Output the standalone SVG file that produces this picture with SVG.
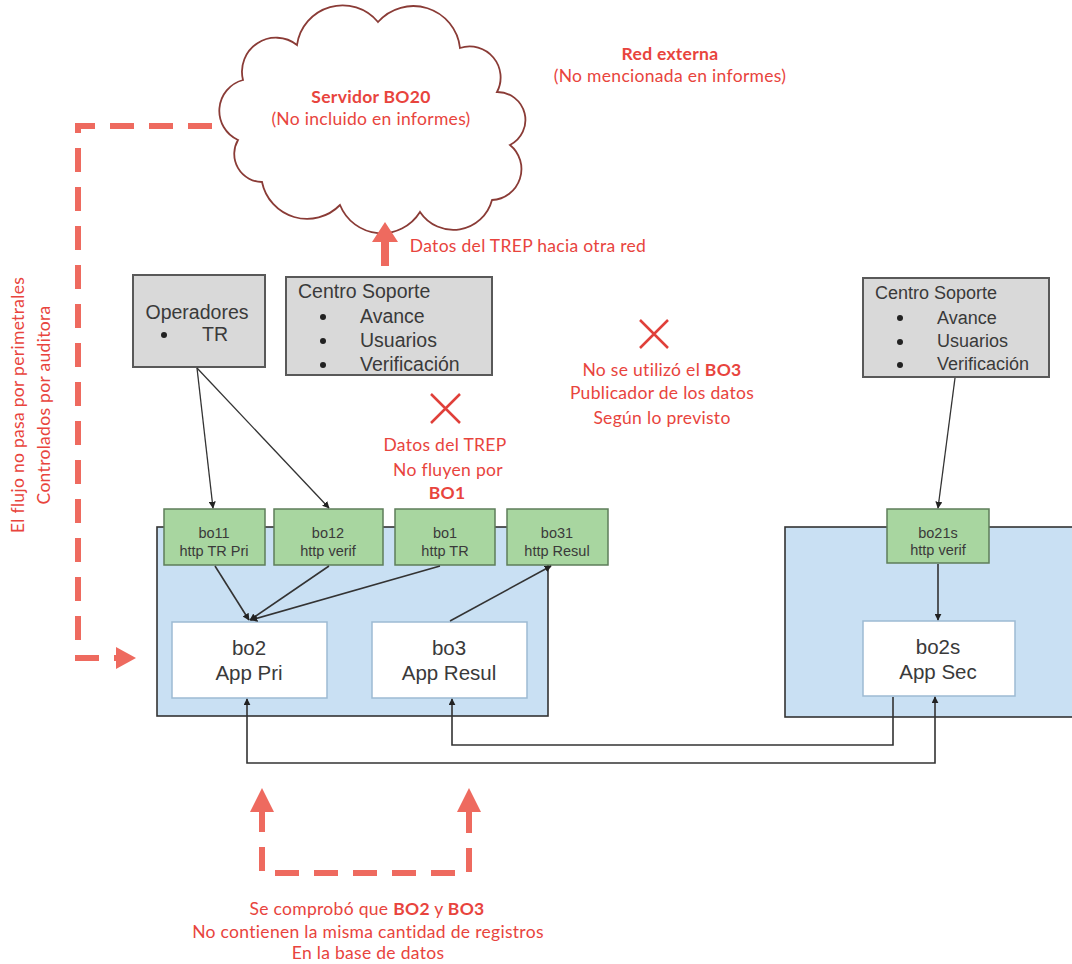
<svg xmlns="http://www.w3.org/2000/svg" width="1072" height="964" viewBox="0 0 1072 964">
<defs>
<style>
.bg{fill:#ffffff}
.gray{fill:#d9d9d9;stroke:#595959;stroke-width:2}
.green{fill:#a8d6a0;stroke:#5e7d5a;stroke-width:1.5}
.blue{fill:#c9e0f3;stroke:#333333;stroke-width:1.6}
.white{fill:#ffffff;stroke:#9dbad3;stroke-width:1.5}
.t{font-family:"Liberation Sans",Arial,sans-serif;fill:#3a3a3a}
.tb{font-size:19.5px}
.tr{font-size:18px}
.tg{font-size:14.5px;text-anchor:middle}
.tw{font-size:20.5px;text-anchor:middle}
.red{font-family:Lato,"Open Sans",sans-serif;fill:#e8443d;font-size:17.5px;letter-spacing:0.3px;text-anchor:middle}
.b{font-weight:bold}
.conn{fill:none;stroke:#333333;stroke-width:1.3}
.conn2{fill:none;stroke:#333333;stroke-width:1.6}
.dash{fill:none;stroke:#ee6a5f;stroke-width:6;stroke-dasharray:24 15}
.rarrow{fill:#ee6a5f}
.xmark{stroke:#e0403a;stroke-width:2.5;fill:none}
.cloud{fill:#ffffff;stroke:#8a3b36;stroke-width:1.8}
</style>
<marker id="ah" viewBox="0 0 10 10" refX="9" refY="5" markerWidth="7" markerHeight="7" markerUnits="userSpaceOnUse" orient="auto-start-reverse">
<path d="M0,0 L10,5 L0,10 z" fill="#222222"/>
</marker>
</defs>
<rect class="bg" x="0" y="0" width="1072" height="964"/>

<g id="cloud">
<path class="cloud" d="M 262 182 A 28 28 0 0 1 238 140 A 32 32 0 0 1 243 80 A 34 34 0 0 1 297 45 A 46 46 0 0 1 378 22 A 47 47 0 0 1 460 48 A 31 31 0 0 1 497 92 A 28 28 0 0 1 510 145 A 31 31 0 0 1 492 200 A 40 40 0 0 1 420 212 A 45 45 0 0 1 340 205 A 46 46 0 0 1 262 182 Z"/>
<text class="red b" x="371" y="103">Servidor BO20</text>
<text class="red" x="371" y="125">(No incluido en informes)</text>
</g>

<g id="red-externa">
<text class="red b" x="670" y="60">Red externa</text>
<text class="red" x="670" y="82">(No mencionada en informes)</text>
</g>

<g id="left-flow-note">
<path class="dash" d="M 212 126 H 78 V 658 H 118"/>
<polygon class="rarrow" points="116,647 136,658 116,669"/>
<text class="red" transform="translate(24,405) rotate(-90)" x="0" y="0">El flujo no pasa por perimetrales</text>
<text class="red" transform="translate(50,405) rotate(-90)" x="0" y="0">Controlados por auditora</text>
</g>

<g id="trep-otra-red">
<polygon class="rarrow" points="372,242 385,222 398,242 389,242 389,266 381,266 381,242"/>
<text class="red" x="528" y="252">Datos del TREP hacia otra red</text>
</g>

<g id="operadores">
<rect class="gray" x="133" y="275" width="132" height="92"/>
<text class="t tb" x="197" y="319" text-anchor="middle">Operadores</text>
<circle cx="164" cy="335" r="3" fill="#222"/>
<text class="t tb" x="202" y="341">TR</text>
</g>

<g id="centro-soporte-1">
<rect class="gray" x="286" y="277" width="206" height="98"/>
<text class="t tb" x="298" y="298">Centro Soporte</text>
<circle cx="323" cy="317" r="3" fill="#222"/>
<circle cx="323" cy="341" r="3" fill="#222"/>
<circle cx="323" cy="365" r="3" fill="#222"/>
<text class="t tb" x="360" y="323">Avance</text>
<text class="t tb" x="360" y="347">Usuarios</text>
<text class="t tb" x="360" y="371">Verificación</text>
</g>

<g id="centro-soporte-2">
<rect class="gray" x="863" y="278" width="186" height="99"/>
<text class="t tr" x="875" y="299">Centro Soporte</text>
<circle cx="900" cy="318" r="3" fill="#222"/>
<circle cx="900" cy="342" r="3" fill="#222"/>
<circle cx="900" cy="365" r="3" fill="#222"/>
<text class="t tr" x="937" y="324">Avance</text>
<text class="t tr" x="937" y="347">Usuarios</text>
<text class="t tr" x="937" y="370">Verificación</text>
</g>

<g id="note-bo1">
<path class="xmark" d="M 431 394 L 460 423 M 460 394 L 431 423"/>
<text class="red" x="445" y="451">Datos del TREP</text>
<text class="red" x="448" y="476">No fluyen por</text>
<text class="red b" x="447" y="499">BO1</text>
</g>

<g id="note-bo3">
<path class="xmark" d="M 640 320 L 668 348 M 668 320 L 640 348"/>
<text class="red" x="662" y="376">No se utilizó el <tspan class="b">BO3</tspan></text>
<text class="red" x="662" y="399">Publicador de los datos</text>
<text class="red" x="662" y="424">Según lo previsto</text>
</g>

<g id="zona-primaria">
<rect class="blue" x="157" y="527" width="391" height="189"/>
</g>
<g id="zona-secundaria">
<rect class="blue" x="785" y="527" width="300" height="190"/>
</g>

<g id="bo11">
<rect class="green" x="164" y="509" width="101" height="56"/>
<text class="t tg" x="214" y="538">bo11</text>
<text class="t tg" x="214" y="556">http TR Pri</text>
</g>
<g id="bo12">
<rect class="green" x="274" y="509" width="109" height="56"/>
<text class="t tg" x="328" y="538">bo12</text>
<text class="t tg" x="328" y="556">http verif</text>
</g>
<g id="bo1">
<rect class="green" x="395" y="509" width="100" height="56"/>
<text class="t tg" x="445" y="538">bo1</text>
<text class="t tg" x="445" y="556">http TR</text>
</g>
<g id="bo31">
<rect class="green" x="507" y="509" width="101" height="56"/>
<text class="t tg" x="557" y="538">bo31</text>
<text class="t tg" x="557" y="556">http Resul</text>
</g>
<g id="bo21s">
<rect class="green" x="887" y="509" width="102" height="54"/>
<text class="t tg" x="938" y="538">bo21s</text>
<text class="t tg" x="938" y="555">http verif</text>
</g>

<g id="bo2">
<rect class="white" x="172" y="622" width="155" height="76"/>
<text class="t tw" x="249" y="655">bo2</text>
<text class="t tw" x="249" y="680">App Pri</text>
</g>
<g id="bo3">
<rect class="white" x="372" y="622" width="155" height="76"/>
<text class="t tw" x="449" y="655">bo3</text>
<text class="t tw" x="449" y="680">App Resul</text>
</g>
<g id="bo2s">
<rect class="white" x="863" y="621" width="152" height="75"/>
<text class="t tw" x="938" y="654">bo2s</text>
<text class="t tw" x="938" y="679">App Sec</text>
</g>

<g id="connectors">
<path class="conn" d="M 197 368 L 213 508" marker-end="url(#ah)"/>
<path class="conn" d="M 197 368 L 329 508" marker-end="url(#ah)"/>
<path class="conn" d="M 955 378 L 938 508" marker-end="url(#ah)"/>
<path class="conn2" d="M 938 564 L 938 620" marker-end="url(#ah)"/>
<path class="conn2" d="M 215 566 L 249 620" marker-end="url(#ah)"/>
<path class="conn2" d="M 329 566 L 250 620" marker-end="url(#ah)"/>
<path class="conn2" d="M 440 566 L 251 620" marker-end="url(#ah)"/>
<path class="conn2" d="M 450 621 L 551 566" marker-end="url(#ah)"/>
<path class="conn2" d="M 935 697 V 763 H 247 V 699" marker-start="url(#ah)" marker-end="url(#ah)"/>
<path class="conn2" d="M 893 697 V 745 H 452 V 699" marker-end="url(#ah)"/>
</g>

<g id="bottom-note">
<path class="dash" d="M 262 808 V 873 H 469 V 808"/>
<polygon class="rarrow" points="250,812 262,788 274,812"/>
<polygon class="rarrow" points="457,812 469,788 481,812"/>
<text class="red" x="367" y="915">Se comprobó que <tspan class="b">BO2</tspan> y  <tspan class="b">BO3</tspan></text>
<text class="red" x="368" y="938">No contienen la misma cantidad de registros</text>
<text class="red" x="368" y="959">En la base de datos</text>
</g>
</svg>
